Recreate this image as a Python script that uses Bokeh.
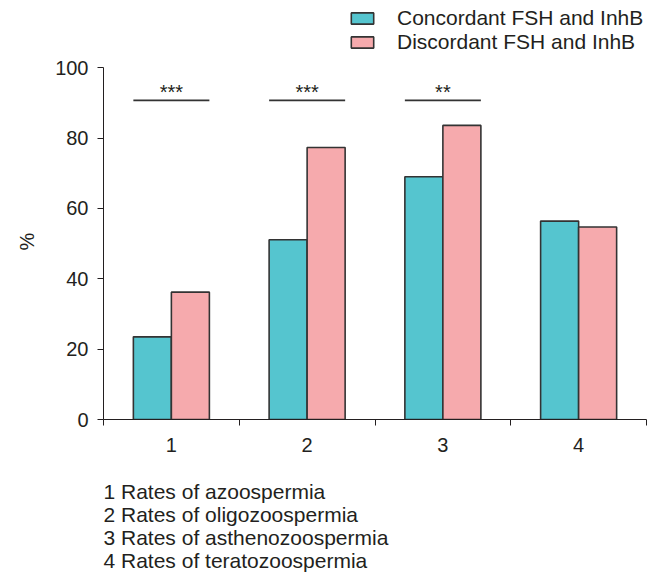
from bokeh.plotting import figure
from bokeh.models import Range1d, FixedTicker, Legend, LegendItem, Title, ColumnDataSource
from bokeh.embed import file_html
from bokeh.resources import INLINE

# ---- data ----
categories = ["1", "2", "3", "4"]
concordant = [23.5, 51.1, 69.0, 56.4]
discordant = [36.2, 77.3, 83.6, 54.7]
series_names = ["Concordant FSH and InhB", "Discordant FSH and InhB"]
sig_groups = [1, 2, 3]
sig_level = [90.7, 90.7, 90.7]
sig_marks = ["***", "***", "**"]
y_ticks = [0, 20, 40, 60, 80, 100]
y_label = "%"
footnotes = ["1 Rates of azoospermia", "2 Rates of oligozoospermia",
             "3 Rates of asthenozoospermia", "4 Rates of teratozoospermia"]

TEAL = "#55C5CF"
PINK = "#F6AAAD"
INK = "#231F20"
FONT = "Liberation Sans"

xpos = [i + 1 for i in range(len(categories))]
bw = 0.28

p = figure(width=660, height=573, output_backend="svg", toolbar_location=None,
           x_range=Range1d(0.5, 4.5), y_range=Range1d(0, 119.1),
           min_border_left=103, min_border_right=14, min_border_top=0, min_border_bottom=154)
p.outline_line_color = None
p.xgrid.visible = False
p.ygrid.visible = False
p.background_fill_color = "white"

src = ColumnDataSource(dict(
    xc=[x - bw / 2 for x in xpos], xd=[x + bw / 2 for x in xpos],
    c=concordant, d=discordant))
r1 = p.vbar(x="xc", top="c", width=bw, bottom=0, source=src,
            fill_color=TEAL, line_color="#333333", line_width=1.6)
r2 = p.vbar(x="xd", top="d", width=bw, bottom=0, source=src,
            fill_color=PINK, line_color="#333333", line_width=1.6)

# significance lines
sig_src = ColumnDataSource(dict(
    x0=[g - bw for g in sig_groups], x1=[g + bw for g in sig_groups],
    xm=sig_groups, y=sig_level, t=sig_marks))
p.segment(x0="x0", y0="y", x1="x1", y1="y", source=sig_src,
          line_color="#333333", line_width=1.6)
p.text(x="xm", y="y", text="t", source=sig_src, text_align="center",
       text_baseline="alphabetic", y_offset=-8, text_font_size="20px",
       text_color=INK, text_font={"value": FONT})

# axes
xa = p.xaxis[0]
xa.ticker = FixedTicker(ticks=xpos, minor_ticks=[x - 0.5 for x in xpos] + [xpos[-1] + 0.5])
xa.major_label_overrides = {x: c for x, c in zip(xpos, categories)}
xa.major_tick_out = 0
xa.major_tick_in = 0
xa.minor_tick_out = 6
xa.minor_tick_in = 0
xa.minor_tick_line_color = INK
xa.axis_line_color = INK
xa.major_label_standoff = 12
xa.major_label_text_font = FONT
xa.major_label_text_font_size = "20px"
xa.major_label_text_color = INK

ya = p.yaxis[0]
ya.ticker = FixedTicker(ticks=y_ticks, minor_ticks=[])
ya.bounds = (0, 100)
ya.major_tick_out = 6
ya.major_tick_in = 0
ya.minor_tick_out = 0
ya.minor_tick_in = 0
ya.major_tick_line_color = INK
ya.axis_line_color = INK
ya.major_label_standoff = 9
ya.major_label_text_font = FONT
ya.major_label_text_font_size = "20px"
ya.major_label_text_color = INK

# "%" axis title, placed as a left title so it can sit at mid-axis
p.add_layout(Title(text=y_label, align="left", offset=169, standoff=28,
                   vertical_align="middle", text_font=FONT, text_font_size="20px",
                   text_font_style="normal", text_color=INK), "left")

legend = Legend(items=[LegendItem(label=series_names[0], renderers=[r1]),
                       LegendItem(label=series_names[1], renderers=[r2])],
                location=(245, 365), margin=0, padding=1, spacing=-2,
                glyph_width=28, glyph_height=14, label_height=20,
                label_standoff=21, border_line_color=None,
                background_fill_alpha=0,
                label_text_font=FONT, label_text_font_size="21px",
                label_text_color=INK)
p.add_layout(legend)

# footnote block below the axis (leading line break leaves the gap under the tick labels)
p.add_layout(Title(text="\n" + "\n".join(footnotes), align="left", offset=0, standoff=0,
                   text_font=FONT, text_font_size="21px", text_line_height=1.0,
                   text_font_style="normal", text_color=INK), "below")

open("out.html", "w").write(file_html(p, INLINE))
